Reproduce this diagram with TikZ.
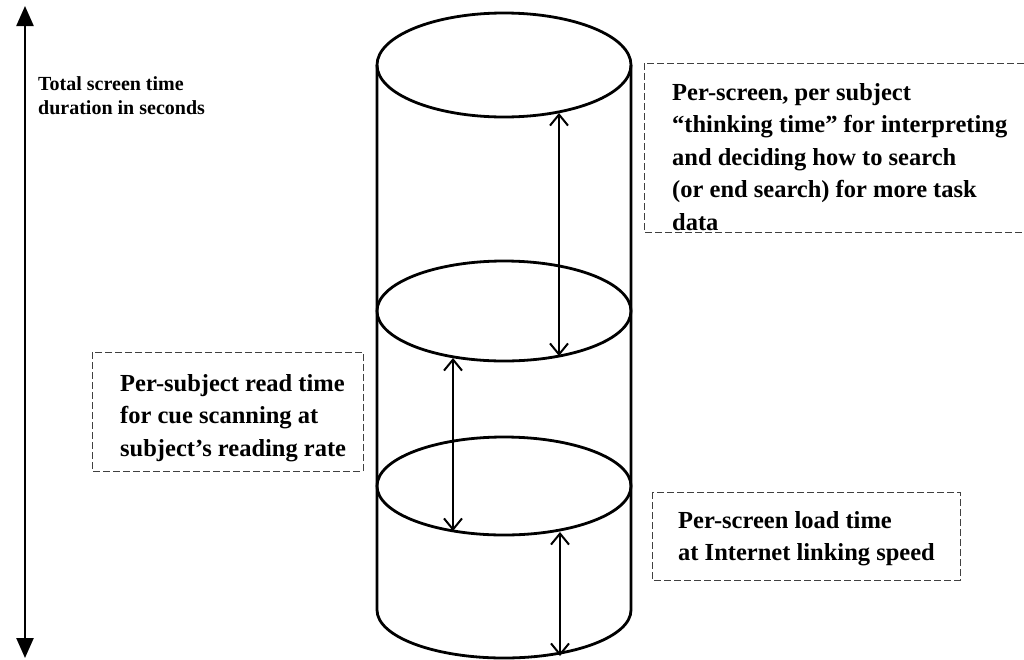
\documentclass[tikz,border=0pt]{standalone}
\usepackage{fontspec}
\setmainfont{Liberation Serif}
\usetikzlibrary{arrows.meta}
\begin{document}
\begin{tikzpicture}[x=1pt,y=-1pt,
  cyl/.style={line width=2.8pt},
  dim/.style={line width=2pt,{Straight Barb[length=11pt,width=18pt,line width=2pt]}-{Straight Barb[length=11pt,width=18pt,line width=2pt]}},
  total/.style={line width=2.4pt,{Triangle[length=20pt,width=17pt]}-{Triangle[length=20pt,width=17pt]}},
  dbox/.style={line width=0.8pt,draw=black!75,dash pattern=on 7pt off 3pt},
  boxtext/.style={font=\bfseries\fontsize{24.5}{32.5}\selectfont,align=left,inner sep=0pt,anchor=north west},
  lefttext/.style={font=\bfseries\fontsize{20}{24}\selectfont,align=left,inner sep=0pt,anchor=north west}]
\useasboundingbox (0,0) rectangle (1024,659);
% cylinder
\coordinate (ctop) at (504,65);
\coordinate (cmid) at (504,311);
\coordinate (clow) at (504,486);
\coordinate (cbot) at (504,610);
\draw[cyl] (ctop) ellipse [x radius=127, y radius=52];
\draw[cyl] (cmid) ellipse [x radius=127, y radius=50];
\draw[cyl] (clow) ellipse [x radius=127, y radius=49];
\draw[cyl] (377,65) -- (377,610) arc [start angle=180, end angle=360, x radius=127, y radius=-48] -- (631,65);
% dimension arrows
\coordinate (a1s) at (559,113);
\coordinate (a1e) at (559,356);
\coordinate (a2s) at (453,358);
\coordinate (a2e) at (453,531);
\coordinate (a3s) at (560,532);
\coordinate (a3e) at (560,656);
\draw[dim] (a1s) -- (a1e);
\draw[dim] (a2s) -- (a2e);
\draw[dim] (a3s) -- (a3e);
% total arrow
\coordinate (tt) at (25,6);
\coordinate (tb) at (25,658);
\draw[total] (tt) -- (tb);
\node[lefttext] (ltxt) at (38,76) {Total screen time\\duration in seconds};
% boxes
\draw[dbox] (1024,63) -- (644,63) -- (644,232) -- (1024,232);
\node[boxtext] (t1) at (672,83) {Per-screen, per subject\\``thinking time'' for interpreting\\and deciding how to search\\(or end search) for more task\\data};
\draw[dbox] (92,352) rectangle (363,471);
\node[boxtext] (t2) at (120,374) {Per-subject read time\\for cue scanning at\\subject's reading rate};
\draw[dbox] (652,492) rectangle (960,580);
\node[boxtext] (t3) at (678,511) {Per-screen load time\\at Internet linking speed};
\end{tikzpicture}
\end{document}
